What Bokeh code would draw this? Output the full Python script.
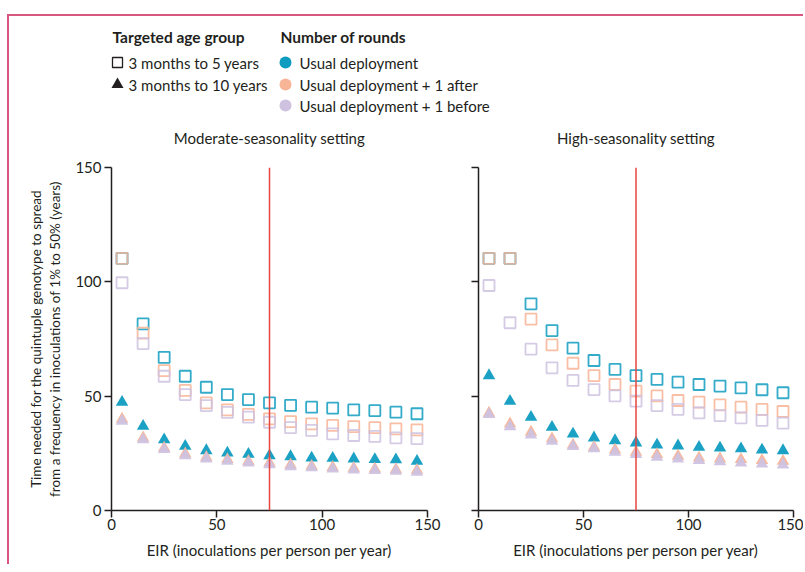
from bokeh.plotting import figure
from bokeh.models import Range1d, FixedTicker, Span
from bokeh.layouts import column, row
from bokeh.core.properties import value
from bokeh.embed import file_html
from bokeh.resources import INLINE

# ---------------- data ----------------
eir = [5, 15, 25, 35, 45, 55, 65, 75, 85, 95, 105, 115, 125, 135, 145]
reference_eir = 75

# Moderate-seasonality setting
mod_sq_usual = [110.3, 81.6, 67.0, 58.7, 53.9, 50.7, 48.5, 47.1, 46.0, 45.2, 44.8, 44.0, 43.7, 43.0, 42.3]
mod_sq_after = [110.3, 77.6, 61.2, 52.5, 47.1, 44.0, 42.0, 40.1, 38.9, 37.9, 37.2, 36.7, 36.2, 35.7, 35.3]
mod_sq_before = [99.6, 73.0, 58.7, 50.7, 45.9, 42.9, 40.8, 38.6, 36.2, 35.0, 33.5, 32.8, 32.4, 31.8, 31.4]
mod_tri_usual = [47.4, 36.9, 31.0, 28.1, 26.2, 25.2, 24.6, 24.0, 23.6, 23.0, 22.9, 22.6, 22.3, 22.2, 21.6]
mod_tri_after = [40.0, 31.8, 27.4, 24.8, 23.3, 22.3, 21.5, 20.8, 20.0, 19.4, 18.9, 18.5, 18.2, 17.9, 17.6]
mod_tri_before = [39.1, 31.0, 26.7, 24.0, 22.6, 21.6, 20.8, 20.1, 19.2, 18.7, 18.2, 17.8, 17.5, 17.2, 16.8]

# High-seasonality setting
high_sq_usual = [110.3, 110.3, 90.4, 78.7, 71.0, 65.6, 61.7, 59.0, 57.3, 56.1, 55.1, 54.4, 53.6, 52.8, 51.5]
high_sq_after = [110.3, 110.3, 83.7, 72.4, 64.4, 59.0, 55.1, 52.2, 50.1, 48.1, 47.4, 46.2, 45.2, 44.2, 43.3]
high_sq_before = [98.4, 82.1, 70.6, 62.4, 56.9, 52.9, 50.1, 47.8, 45.9, 44.2, 42.7, 41.5, 40.5, 39.4, 38.2]
high_tri_usual = [59.0, 47.8, 40.8, 36.4, 33.5, 31.8, 30.6, 29.6, 28.7, 28.3, 27.7, 27.4, 27.0, 26.5, 26.2]
high_tri_after = [42.6, 37.9, 34.3, 31.4, 28.7, 27.7, 26.5, 25.5, 24.5, 23.8, 23.0, 22.6, 22.3, 21.9, 21.6]
high_tri_before = [42.0, 36.7, 33.1, 30.3, 28.0, 27.0, 25.5, 24.5, 23.3, 22.6, 21.9, 21.4, 20.8, 20.4, 20.0]

x_min, x_max = 0, 150
y_min, y_max = 0, 150
axis_ticks = [0, 50, 100, 150]
age_groups = ["3 months to 5 years", "3 months to 10 years"]
rounds = ["Usual deployment", "Usual deployment + 1 after", "Usual deployment + 1 before"]
panel_titles = ["Moderate-seasonality setting", "High-seasonality setting"]
legend_titles = ["Targeted age group", "Number of rounds"]
x_label = "EIR (inoculations per person per year)"
y_label = "Time needed for the quintuple genotype to spread\nfrom a frequency in inoculations of 1% to 50% (years)"

# ---------------- style / layout ----------------
FONT = "Lato"
INK = "#231f20"
COLORS = ["#0f9cc0", "#f8b496", "#cec2e0"]
RED = "#e5463f"
FRAME = "#d9577f"

HEADER_H = 135          # legend + panel titles strip
PANEL_H = 413
TOP_B, BOTTOM_B = 16, 54
L_W, L_LEFT, L_RIGHT = 433, 102, 15
R_W, R_LEFT, R_RIGHT = 361, 36, 10


def make_panel(sq_series, tri_series, width, mbl, mbr, show_labels):
    p = figure(width=width, height=PANEL_H, x_range=Range1d(x_min, x_max), y_range=Range1d(y_min, y_max),
               output_backend="svg", toolbar_location=None,
               min_border_left=mbl, min_border_right=mbr,
               min_border_top=TOP_B, min_border_bottom=BOTTOM_B)
    p.xgrid.visible = False
    p.ygrid.visible = False
    p.outline_line_color = None
    p.background_fill_color = "white"
    p.border_fill_color = "white"

    for ax in (p.xaxis[0], p.yaxis[0]):
        ax.ticker = FixedTicker(ticks=axis_ticks)
        ax.axis_line_color = INK
        ax.axis_line_width = 1.5
        ax.major_tick_line_color = INK
        ax.major_tick_line_width = 1.5
        ax.major_tick_out = 7
        ax.major_tick_in = 0
        ax.minor_tick_out = 0
        ax.minor_tick_in = 0
        ax.major_label_text_font = FONT
        ax.major_label_text_font_size = "15px"
        ax.major_label_text_color = INK
        ax.axis_label_text_font = FONT
        ax.axis_label_text_font_style = "normal"
        ax.axis_label_text_color = INK

    p.xaxis.major_label_standoff = 1
    p.yaxis.major_label_standoff = 3
    p.xaxis.axis_label = x_label
    p.xaxis.axis_label_text_font_size = "15px"
    p.xaxis.axis_label_standoff = 8
    if show_labels:
        p.yaxis.axis_label = y_label
        p.yaxis.axis_label_text_font_size = "13.5px"
        p.yaxis.axis_label_standoff = 9
    else:
        p.yaxis.major_label_overrides = {t: "" for t in axis_ticks}

    for ys, c in zip(sq_series, COLORS):
        p.scatter(eir, ys, marker="square", size=11, fill_color=None,
                  line_color=c, line_width=1.8, line_alpha=0.85)
    for ys, c in zip(tri_series, COLORS):
        p.scatter(eir, ys, marker="triangle", size=12.5, fill_color=c,
                  line_color=None, fill_alpha=0.95)

    p.add_layout(Span(location=reference_eir, dimension="height",
                      line_color=RED, line_width=1.5))
    return p


left = make_panel([mod_sq_usual, mod_sq_after, mod_sq_before],
                  [mod_tri_usual, mod_tri_after, mod_tri_before],
                  L_W, L_LEFT, L_RIGHT, True)
right = make_panel([high_sq_usual, high_sq_after, high_sq_before],
                   [high_tri_usual, high_tri_after, high_tri_before],
                   R_W, R_LEFT, R_RIGHT, False)

# ---------------- header: legend + panel titles ----------------
LW = L_W + R_W
header = figure(width=LW, height=HEADER_H, x_range=Range1d(0, LW), y_range=Range1d(HEADER_H, 0),
                output_backend="svg", toolbar_location=None, min_border=0,
                x_axis_type=None, y_axis_type=None)
header.xgrid.visible = False
header.ygrid.visible = False
header.outline_line_color = None

title_x = [103, 271]
title_y = 20
header.text(x=title_x, y=[title_y, title_y], text=legend_titles,
            text_font=value(FONT), text_font_size="15.5px", text_font_style="bold",
            text_color=INK, text_baseline="middle", text_align="left")

row_y = [46, 68, 89]
age_marker_x, age_text_x = 108, 119
header.scatter([age_marker_x], [row_y[0]], marker="square", size=10, fill_color=None,
               line_color=INK, line_width=1.3)
header.scatter([age_marker_x], [row_y[1]], marker="triangle", size=12, fill_color=INK,
               line_color=None)
header.text(x=[age_text_x] * 2, y=row_y[:2], text=age_groups,
            text_font=value(FONT), text_font_size="15px", text_color=INK,
            text_baseline="middle", text_align="left")

round_marker_x, round_text_x = 276, 290
header.scatter([round_marker_x] * 3, row_y, marker="circle", size=12,
               fill_color=COLORS, line_color=None)
header.text(x=[round_text_x] * 3, y=row_y, text=rounds,
            text_font=value(FONT), text_font_size="15px", text_color=INK,
            text_baseline="middle", text_align="left")

# panel titles centred over each plot area
left_centre = L_LEFT + (L_W - L_LEFT - L_RIGHT) / 2
right_centre = L_W + R_LEFT + (R_W - R_LEFT - R_RIGHT) / 2
header.text(x=[left_centre, right_centre], y=[HEADER_H - 14] * 2, text=panel_titles,
            text_font=value(FONT), text_font_size="15px", text_color=INK,
            text_baseline="middle", text_align="center")

layout = column(header, row(left, right),
                styles={"border-top": f"2px solid {FRAME}",
                        "border-left": f"2px solid {FRAME}",
                        "margin-top": "14px",
                        "margin-left": "7px"})

open("out.html", "w").write(file_html(layout, INLINE))
